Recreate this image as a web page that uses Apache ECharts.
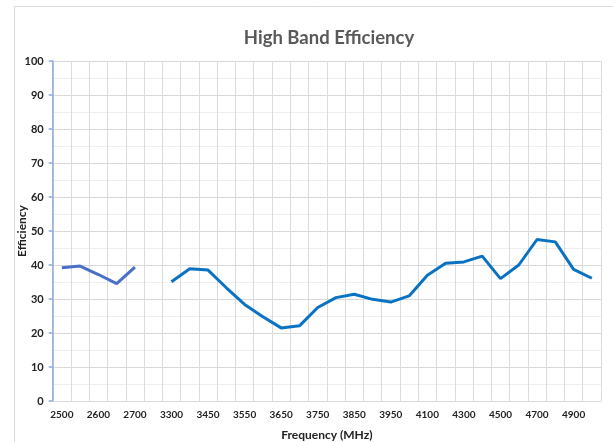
<!DOCTYPE html>
<html><head><meta charset="utf-8">
<script src="https://cdn.jsdelivr.net/npm/echarts@6/dist/echarts.min.js"></script>
<style>html,body{margin:0;padding:0;background:#fff}#c{width:613px;height:442px}</style>
</head><body><div id="c"></div>
<script>
const categories = ['2500','2550','2600','2650','2700','','3300','3400','3450','3500','3550','3600','3650','3700','3750','3800','3850','3900','3950','4000','4100','4200','4300','4400','4500','4600','4700','4800','4900','5000'];
const lowBandValues = [39.2,39.7,37.2,34.5,39.4,null,null,null,null,null,null,null,null,null,null,null,null,null,null,null,null,null,null,null,null,null,null,null,null,null];
const highBandValues = [null,null,null,null,null,null,35.1,38.9,38.5,33.3,28.4,24.8,21.5,22.1,27.5,30.4,31.4,29.9,29.1,30.9,37.0,40.5,40.9,42.6,36.0,40.0,47.5,46.8,38.7,36.1];
const yTicks = [0,10,20,30,40,50,60,70,80,90,100];

const chart = echarts.init(document.getElementById('c'), null, {renderer:'canvas'});
const font = 'Lato, "Open Sans", sans-serif';
chart.setOption({
  animation:false,
  backgroundColor:'#fff',
  graphic:[
    {type:'rect',shape:{x:14.5,y:6.5,width:700,height:500},style:{fill:'none',stroke:'#d9d9d9',lineWidth:1},silent:true,z:-1},
    {type:'text',x:329,y:38,style:{text:'High Band Efficiency',fontFamily:font,fontSize:18.5,fontWeight:'bold',fill:'#595959',align:'center',verticalAlign:'middle'},silent:true}
  ],
  grid:{left:52.7,right:12,top:61,bottom:41,containLabel:false,outerBoundsMode:'none'},
  xAxis:{type:'category',data:categories,boundaryGap:true,
    name:'Frequency (MHz)',nameLocation:'middle',nameGap:28,nameMoveOverlap:false,
    nameTextStyle:{fontFamily:font,fontSize:12,fontWeight:'bold',color:'#222'},
    axisLine:{show:true,lineStyle:{color:'#d9d9d9'}},axisTick:{show:false},
    axisLabel:{interval:1,fontFamily:font,fontSize:10,fontWeight:'bold',color:'#222',margin:9},
    splitLine:{show:true,interval:0,lineStyle:{color:'#dcdcdc',width:1}}},
  yAxis:{type:'value',min:yTicks[0],max:yTicks[yTicks.length-1],interval:10,
    name:'Efficiency',nameLocation:'middle',nameGap:25,nameRotate:90,nameMoveOverlap:false,
    nameTextStyle:{fontFamily:font,fontSize:12,fontWeight:'bold',color:'#222'},
    axisLine:{show:true,lineStyle:{color:'#8faadc',width:1.5}},
    axisTick:{show:true,length:4,lineStyle:{color:'#8faadc',width:1.5}},
    axisLabel:{fontFamily:font,fontSize:11,fontWeight:'bold',color:'#222',margin:9},
    splitLine:{show:true,lineStyle:{color:'#d9d9d9'}},
    minorTick:{show:false,splitNumber:2},
    minorSplitLine:{show:true,lineStyle:{color:'#efefef'}}},
  series:[
    {type:'line',data:lowBandValues,showSymbol:false,connectNulls:false,
      lineStyle:{color:'#4a6fc6',width:3},itemStyle:{color:'#4a6fc6'}},
    {type:'line',data:highBandValues,showSymbol:false,connectNulls:false,
      lineStyle:{color:'#0a72c2',width:3},itemStyle:{color:'#0a72c2'}}
  ]
});
</script></body></html>
